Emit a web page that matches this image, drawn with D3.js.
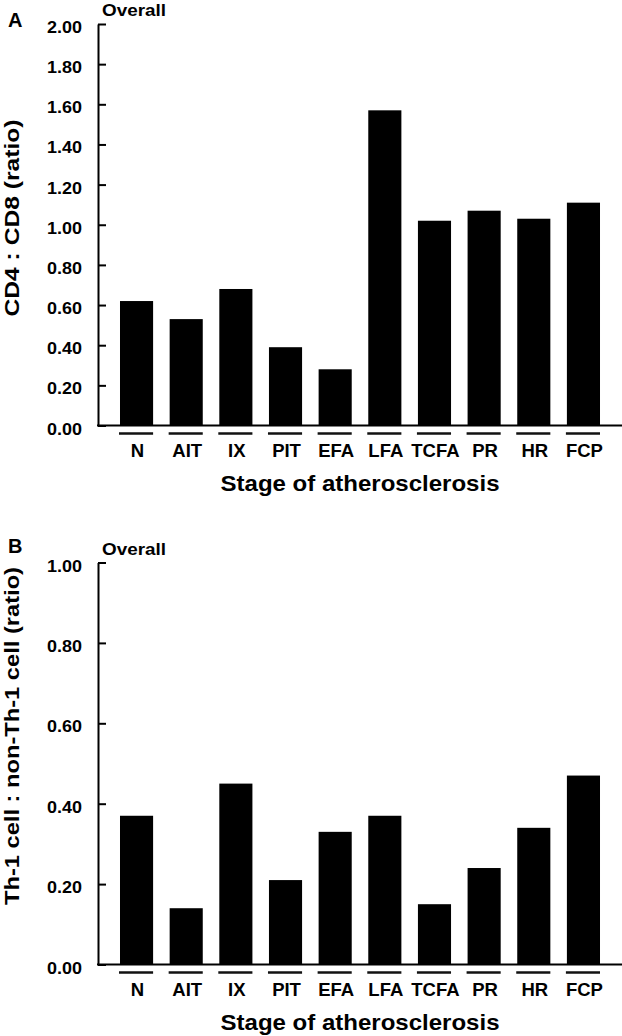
<!DOCTYPE html>
<html>
<head>
<meta charset="utf-8">
<script src="https://cdn.jsdelivr.net/npm/d3@7"></script>
<style>
  html, body { margin: 0; padding: 0; background: #fff; }
  svg { display: block; }
  text { font-family: "Liberation Sans", Arial, Helvetica, sans-serif; font-weight: bold; fill: #000; }
</style>
</head>
<body>
<script>
// ---- data ----
const categories = ["N", "AIT", "IX", "PIT", "EFA", "LFA", "TCFA", "PR", "HR", "FCP"];
const cd4cd8Ratio = [0.62, 0.53, 0.68, 0.39, 0.28, 1.57, 1.02, 1.07, 1.03, 1.11];
const th1Ratio = [0.37, 0.14, 0.45, 0.21, 0.33, 0.37, 0.15, 0.24, 0.34, 0.47];
const ticksA = [0, 0.2, 0.4, 0.6, 0.8, 1.0, 1.2, 1.4, 1.6, 1.8, 2.0];
const ticksB = [0, 0.2, 0.4, 0.6, 0.8, 1.0];
const xTitle = "Stage of atherosclerosis";
const yTitleA = "CD4 : CD8 (ratio)";
const yTitleB = "Th-1 cell : non-Th-1 cell (ratio)";
const subTitle = "Overall";

const W = 622, H = 1036;
const svg = d3.select("body").append("svg").attr("width", W).attr("height", H);

const x = d3.scaleBand().domain(categories).range([98, 622])
  .paddingInner(1 / 3).paddingOuter(0.443);

function panel(opts) {
  const g = svg.append("g");
  const y = d3.scaleLinear().domain([0, opts.max]).range([opts.zero, opts.top]);

  // bars
  g.selectAll("rect.bar").data(opts.values).enter().append("rect")
    .attr("class", "bar")
    .attr("x", (d, i) => x(categories[i]))
    .attr("width", x.bandwidth())
    .attr("y", d => y(d))
    .attr("height", d => y(0) - y(d))
    .attr("fill", "#000");

  // y axis
  const ax = g.append("g").attr("transform", `translate(98,0)`)
    .call(d3.axisLeft(y).tickValues(opts.ticks).tickFormat(d3.format(".2f"))
      .tickSizeInner(-8).tickSizeOuter(0).tickPadding(16));
  ax.select(".domain").attr("stroke", "#000").attr("stroke-width", 2);
  ax.selectAll(".tick line").attr("stroke", "#000").attr("stroke-width", 2);
  ax.selectAll(".tick text")
    .attr("fill", "#000")
    .style("font-size", "17px")
    .style("font-family", "'Liberation Sans', Arial, sans-serif")
    .style("font-weight", "bold")
    .attr("dy", "0.5em")
    .attr("textLength", 35).attr("lengthAdjust", "spacingAndGlyphs");

  // x baseline
  g.append("line").attr("x1", 97).attr("x2", 622)
    .attr("y1", y(0)).attr("y2", y(0))
    .attr("stroke", "#000").attr("stroke-width", 2);

  // underlines
  g.selectAll("line.under").data(categories).enter().append("line")
    .attr("class", "under")
    .attr("x1", d => x(d) - 1).attr("x2", d => x(d) + x.bandwidth())
    .attr("y1", y(0) + 8).attr("y2", y(0) + 8)
    .attr("stroke", "#111").attr("stroke-width", 2.4);

  // category labels
  g.selectAll("text.cat").data(categories).enter().append("text")
    .attr("class", "cat")
    .attr("x", d => x(d) + x.bandwidth() / 2 + 1)
    .attr("y", y(0) + 31)
    .attr("text-anchor", "middle")
    .style("font-size", "18.5px")
    .text(d => d);

  // x title
  g.append("text").attr("x", 360).attr("y", y(0) + 65)
    .attr("text-anchor", "middle").style("font-size", "22px")
    .attr("textLength", 279).attr("lengthAdjust", "spacingAndGlyphs")
    .text(xTitle);

  // y title
  g.append("text")
    .attr("transform", `translate(19,${opts.yTitleCenter}) rotate(-90)`)
    .attr("text-anchor", "middle").style("font-size", "20px")
    .attr("textLength", opts.yTitleLen).attr("lengthAdjust", "spacingAndGlyphs")
    .text(opts.yTitle);

  // panel letter
  g.append("text").attr("x", 8).attr("y", opts.letterY)
    .style("font-size", "20px").text(opts.letter);

  // "Overall"
  g.append("text").attr("x", 102).attr("y", opts.top - 8)
    .style("font-size", "16.5px")
    .attr("textLength", 64).attr("lengthAdjust", "spacingAndGlyphs")
    .text(subTitle);
}

panel({ values: cd4cd8Ratio, ticks: ticksA, max: 2.0, top: 24, zero: 425.5,
  yTitle: yTitleA, yTitleLen: 197, yTitleCenter: 218, letter: "A", letterY: 27 });
panel({ values: th1Ratio, ticks: ticksB, max: 1.0, top: 562.5, zero: 964.5,
  yTitle: yTitleB, yTitleLen: 338, yTitleCenter: 736, letter: "B", letterY: 553 });
</script>
</body>
</html>
